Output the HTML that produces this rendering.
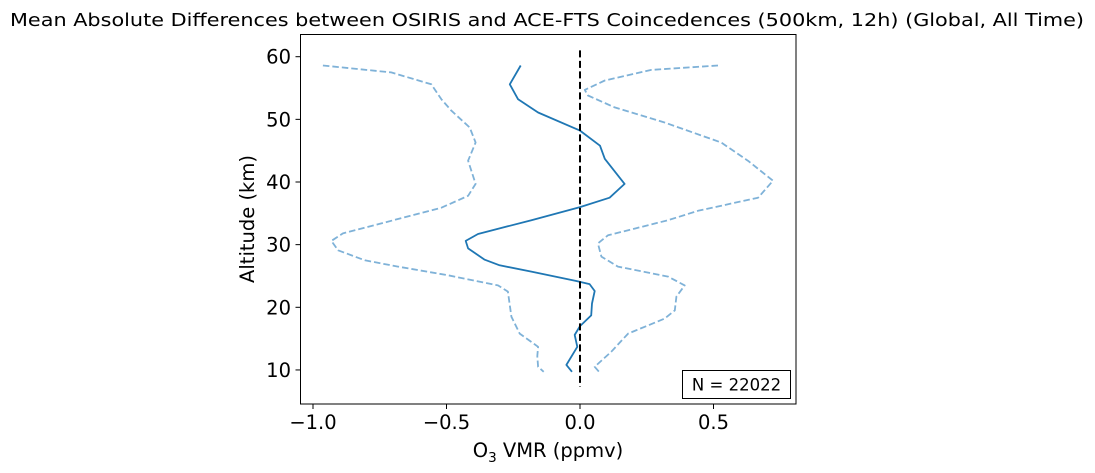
<!DOCTYPE html>
<html><head><meta charset="utf-8"><style>
body{margin:0;background:#fff;}
svg{display:block;font-family:"DejaVu Sans","Liberation Sans",sans-serif;}
</style></head><body>
<svg id="chart" width="1095" height="473" viewBox="0 0 1095 473">
<text x="547" y="26" font-size="18" text-anchor="middle" textLength="1074" lengthAdjust="spacingAndGlyphs">Mean Absolute Differences between OSIRIS and ACE-FTS Coincedences (500km, 12h) (Global, All Time)</text>
<g id="plot"></g>
<rect x="300.5" y="34.5" width="495.5" height="369.5" fill="none" stroke="#000" stroke-width="1"/>
<g id="xticks"></g>
<g id="yticks"></g>
<text x="548" y="457" font-size="19.5" text-anchor="middle">O<tspan font-size="13.5" dy="5">3</tspan><tspan dy="-5"> VMR (ppmv)</tspan></text>
<text transform="translate(254,219) rotate(-90)" font-size="19.5" text-anchor="middle">Altitude (km)</text>
<g>
<rect x="682.5" y="370.5" width="108" height="28" fill="#fff" stroke="#000" stroke-width="1"/>
<text x="736.5" y="390.5" font-size="16.5" text-anchor="middle">N = 22022</text>
</g>
</svg>
<script>
const meanAlt=[58.6,55.6,53.2,51.1,48.2,45.8,43.7,39.7,37.5,36.0,33.9,31.7,30.6,29.4,27.6,26.7,25.7,24.2,23.7,22.6,20.6,18.7,17.0,15.6,13.7,10.8,9.7];
const meanVals=[-0.222,-0.263,-0.232,-0.157,0,0.075,0.093,0.167,0.111,0,-0.182,-0.382,-0.428,-0.419,-0.357,-0.301,-0.182,-0.014,0.036,0.055,0.045,0.042,0,-0.02,-0.01,-0.051,-0.03];
const lowAlt=[58.6,57.5,55.6,53.2,51.4,48.7,46.3,43.4,39.7,37.8,35.9,31.8,30.6,29.1,27.5,26.5,25.1,23.5,22.5,18.5,15.8,13.7,12.2,10.5,9.7];
const lowVals=[-0.963,-0.707,-0.557,-0.519,-0.482,-0.413,-0.391,-0.419,-0.391,-0.419,-0.519,-0.888,-0.931,-0.906,-0.806,-0.682,-0.494,-0.307,-0.27,-0.257,-0.226,-0.157,-0.16,-0.157,-0.136];
const highAlt=[58.6,57.9,56.2,54.7,53.8,51.9,49.5,46.3,43.4,40.2,37.5,35.4,33.9,31.5,30.2,28.1,26.5,24.9,23.5,21.7,19.5,18.2,15.8,12.9,10.5,9.7];
const highVals=[0.517,0.267,0.093,0.018,0.03,0.13,0.317,0.529,0.629,0.723,0.667,0.442,0.33,0.105,0.067,0.08,0.142,0.33,0.392,0.361,0.355,0.317,0.18,0.117,0.055,0.071];
const xTicks=[-1.0,-0.5,0.0,0.5];
const xTickLabels=["\u22121.0","\u22120.5","0.0","0.5"];
const yTicks=[10,20,30,40,50,60];
const zeroLine=[7.3,61];

const NS="http://www.w3.org/2000/svg";
const X=v=>580+v*267;
const Y=a=>56.7+(60-a)*6.265;
function mk(tag,attrs,parent){const e=document.createElementNS(NS,tag);for(const k in attrs)e.setAttribute(k,attrs[k]);parent.appendChild(e);return e;}
const plot=document.getElementById('plot');
function line(alts,vals,style,name){
  const d=alts.map((a,i)=>(i?'L':'M')+X(vals[i]).toFixed(1)+','+Y(a).toFixed(1)).join('');
  const p=mk('path',Object.assign({d:d,fill:'none','stroke-linejoin':'round'},style),plot);
  
  
}
line(lowAlt,lowVals,{stroke:'#7fb2d8','stroke-width':1.8,'stroke-dasharray':'6.5,3'},'lower-bound-line');
line(highAlt,highVals,{stroke:'#7fb2d8','stroke-width':1.8,'stroke-dasharray':'6.5,3'},'upper-bound-line');
line(meanAlt,meanVals,{stroke:'#1f77b4','stroke-width':1.8},'mean-difference-line');
const z=mk('line',{x1:X(0),x2:X(0),y1:Y(zeroLine[1]),y2:Y(zeroLine[0]),stroke:'#000','stroke-width':2,'stroke-dasharray':'7,3.5'},plot);


const xg=document.getElementById('xticks');
xTicks.forEach((v,i)=>{
  const g=mk('g',{},xg);
  
  
  mk('line',{x1:X(v),x2:X(v),y1:404,y2:409,stroke:'#000'},g);
  const t=mk('text',{x:X(v),y:429,'font-size':19.5,'text-anchor':'middle'},g);t.textContent=xTickLabels[i];
});
const yg=document.getElementById('yticks');
yTicks.forEach(v=>{
  const g=mk('g',{},yg);
  
  
  mk('line',{x1:295.5,x2:300.5,y1:Y(v),y2:Y(v),stroke:'#000'},g);
  const t=mk('text',{x:291,y:Y(v)+7,'font-size':19.5,'text-anchor':'end'},g);t.textContent=v;
});
</script>
</body></html>
